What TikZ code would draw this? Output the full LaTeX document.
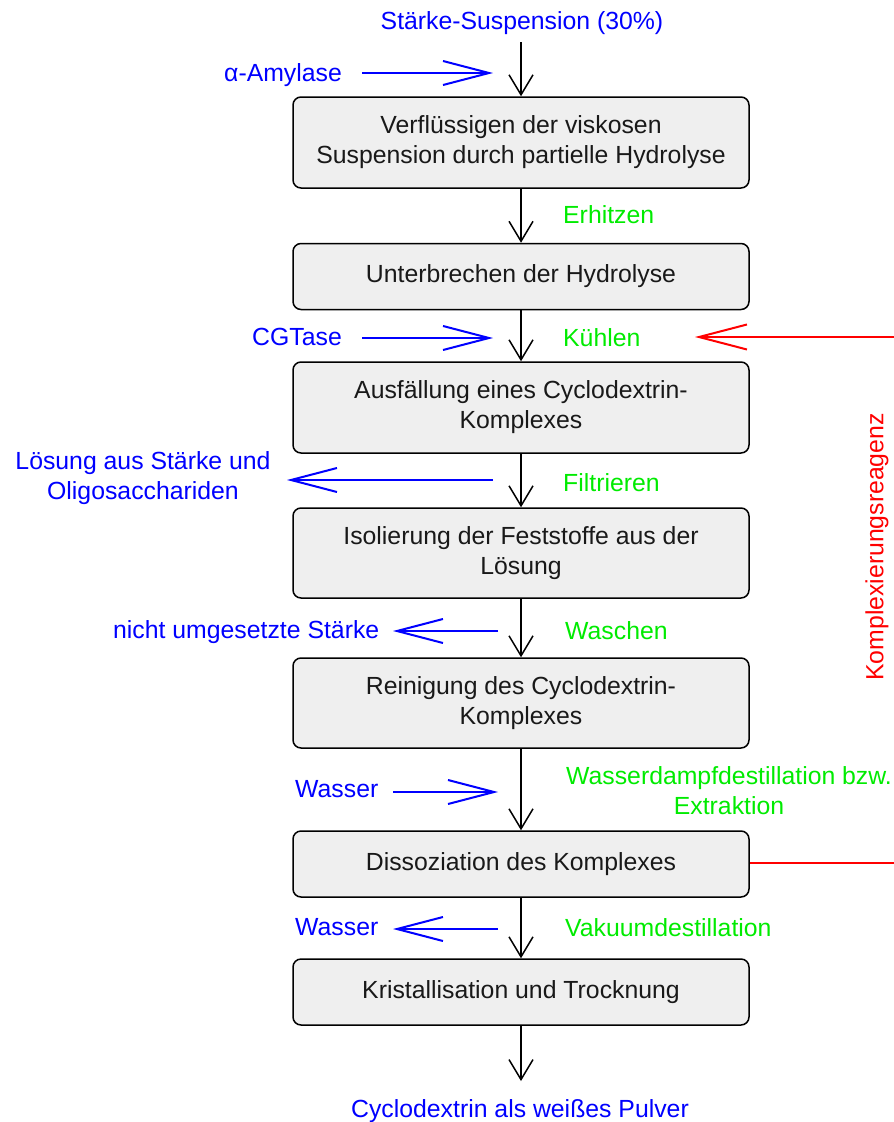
\documentclass[tikz,border=0pt]{standalone}
\usepackage{fontspec}
\setmainfont{Liberation Sans}
\usetikzlibrary{arrows.meta}
\definecolor{boxfill}{RGB}{239,239,239}
\definecolor{lblue}{RGB}{0,0,255}
\definecolor{lgreen}{RGB}{0,235,0}
\definecolor{lred}{RGB}{255,0,0}
\tikzset{
  every node/.style={font=\fontsize{24.8}{30}\selectfont, inner sep=0pt},
  procbox/.style={draw=black, line width=1.5pt, rounded corners=8pt, fill=boxfill,
    minimum width=456pt, align=center, text=black!90},
  mainflow/.style={draw=black, line width=1.5pt, -{Straight Barb[length=20pt,width=24pt,line width=1.5pt]}},
  bluflow/.style={draw=lblue, line width=2pt, -{Straight Barb[length=46pt,width=24pt,line width=2pt]}},
  redflow/.style={draw=lred, line width=2pt, -{Straight Barb[length=48pt,width=25pt,line width=2pt]}},
  redline/.style={draw=lred, line width=2pt},
  btxt/.style={text=lblue},
  gtxt/.style={text=lgreen},
  rtxt/.style={text=lred},
}
\begin{document}
\begin{tikzpicture}[x=1pt,y=-1pt]
\useasboundingbox (0,0) rectangle (894,1122);

% process boxes
\node[procbox, minimum height=91pt] (b1) at (521,142.5) {Verflüssigen der viskosen\\Suspension durch partielle Hydrolyse};
\node[procbox, minimum height=66pt] (b2) at (521,276.5) {Unterbrechen der Hydrolyse};
\node[procbox, minimum height=91pt] (b3) at (521,407.5) {Ausfällung eines Cyclodextrin-\\Komplexes};
\node[procbox, minimum height=90pt] (b4) at (521,553) {Isolierung der Feststoffe aus der\\Lösung};
\node[procbox, minimum height=90pt] (b5) at (521,703) {Reinigung des Cyclodextrin-\\Komplexes};
\node[procbox, minimum height=66pt] (b6) at (521,864) {Dissoziation des Komplexes};
\node[procbox, minimum height=66pt] (b7) at (521,992) {Kristallisation und Trocknung};

% input / output
\node[btxt, anchor=base] (start) at (522,29) {Stärke-Suspension (30\%)};
\coordinate (s0) at (521,42);
\coordinate (e0) at (521,1081);
\node[btxt, anchor=base] (prod) at (520,1117) {Cyclodextrin als weißes Pulver};

% main flow
\draw[mainflow] (s0) -- (b1.north);
\draw[mainflow] (b1.south) -- (b2.north);
\draw[mainflow] (b2.south) -- (b3.north);
\draw[mainflow] (b3.south) -- (b4.north);
\draw[mainflow] (b4.south) -- (b5.north);
\draw[mainflow] (b5.south) -- (b6.north);
\draw[mainflow] (b6.south) -- (b7.north);
\draw[mainflow] (b7.south) -- (e0);

% green step labels
\node[gtxt, anchor=base west] (g1) at (563,223) {Erhitzen};
\node[gtxt, anchor=base west] (g2) at (563,346) {Kühlen};
\node[gtxt, anchor=base west] (g3) at (563,491) {Filtrieren};
\node[gtxt, anchor=base west] (g4) at (565,639) {Waschen};
\node[gtxt, align=center] (g5) at (729,791) {Wasserdampfdestillation bzw.\\Extraktion};
\node[gtxt, anchor=base west] (g6) at (565,936) {Vakuumdestillation};

% blue side streams
\node[btxt, anchor=base west] (amy) at (224,81) {α-Amylase};
\coordinate (amyA) at (362,73);
\coordinate (amyB) at (493,73);
\draw[bluflow] (amyA) -- (amyB);

\node[btxt, anchor=base west] (cgt) at (252,345) {CGTase};
\coordinate (cgtA) at (362,338);
\coordinate (cgtB) at (493,338);
\draw[bluflow] (cgtA) -- (cgtB);

\node[btxt, align=center] (loes) at (143,478) {Lösung aus Stärke und\\Oligosacchariden};
\coordinate (loesA) at (493,480);
\coordinate (loesB) at (287,480);
\draw[bluflow] (loesA) -- (loesB);

\node[btxt, anchor=base west] (nicht) at (113,638) {nicht umgesetzte Stärke};
\coordinate (nichtA) at (498,631);
\coordinate (nichtB) at (393,631);
\draw[bluflow] (nichtA) -- (nichtB);

\node[btxt, anchor=base west] (w1) at (295,797) {Wasser};
\coordinate (w1A) at (393,792);
\coordinate (w1B) at (498,792);
\draw[bluflow] (w1A) -- (w1B);

\node[btxt, anchor=base west] (w2) at (295,935) {Wasser};
\coordinate (w2A) at (498,929);
\coordinate (w2B) at (393,929);
\draw[bluflow] (w2A) -- (w2B);

% red complexing agent loop
\coordinate (rTop) at (894,337);
\coordinate (rTip) at (695,337);
\coordinate (rBot) at (894,863);
\draw[redflow] (rTop) -- (rTip);
\draw[redline] (b6.east |- rBot) -- (rBot);
\node[rtxt, rotate=90] (kompl) at (877,547) {Komplexierungsreagenz};
\end{tikzpicture}
\end{document}
